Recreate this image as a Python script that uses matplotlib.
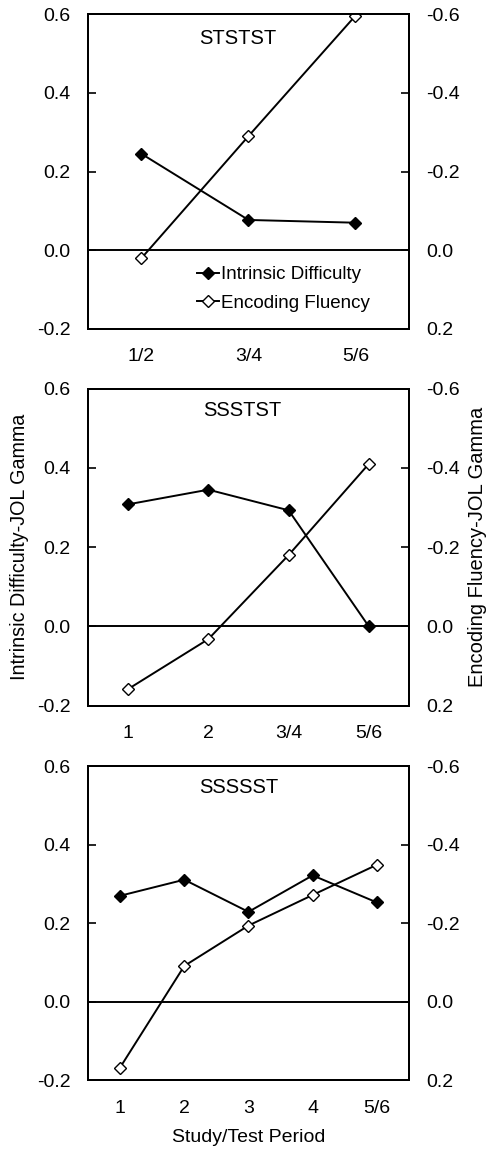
import numpy as np
import matplotlib.pyplot as plt

plt.rcParams['font.family'] = ['Liberation Sans', 'DejaVu Sans']
plt.rcParams['font.size'] = 14

# Panel data
titles = ["STSTST", "SSSTST", "SSSSST"]
xlabels = [["1/2", "3/4", "5/6"],
           ["1", "2", "3/4", "5/6"],
           ["1", "2", "3", "4", "5/6"]]
intrinsic = [[0.245, 0.077, 0.070],
             [0.308, 0.345, 0.293, 0.0],
             [0.270, 0.311, 0.229, 0.322, 0.253]]
fluency = [[0.020, -0.290, -0.596],
           [0.158, 0.032, -0.180, -0.410],
           [0.168, -0.091, -0.194, -0.272, -0.349]]

yticks = [-0.2, 0.0, 0.2, 0.4, 0.6]
rticks = [0.2, 0.0, -0.2, -0.4, -0.6]

fig = plt.figure(figsize=(4.87, 11.49), dpi=100)

# axes boxes in figure fractions: left, bottom, width, height
boxes = [[0.1807, 0.7137, 0.659, 0.274],
         [0.1807, 0.3858, 0.659, 0.276],
         [0.1807, 0.0600, 0.659, 0.273]]
title_pos = [(0.467, 0.924), (0.482, 0.93), (0.47, 0.933)]

for i in range(3):
    ax = fig.add_axes(boxes[i])
    n = len(xlabels[i])
    x = np.arange(1, n + 1)
    ax.set_xlim(0.5, n + 0.5)
    ax.set_ylim(-0.2, 0.6)
    ax.axhline(0, color='black', lw=1.4, zorder=1)
    l1, = ax.plot(x, intrinsic[i], color='black', lw=1.4, marker='D',
                  markersize=6.5, markerfacecolor='black', label='Intrinsic Difficulty')
    ax.set_yticks(yticks)
    ax.set_yticklabels(["%.1f" % v for v in yticks])
    ax.set_xticks(x)
    ax.set_xticklabels(xlabels[i])
    ax.tick_params(axis='x', length=0, pad=14, labelsize=14)
    ax.tick_params(axis='y', direction='in', length=6, width=1.2, pad=12.5, labelsize=14)
    for s in ax.spines.values():
        s.set_linewidth(1.4)

    ax2 = ax.twinx()
    ax2.set_ylim(0.2, -0.6)
    l2, = ax2.plot(x, fluency[i], color='black', lw=1.4, marker='D',
                   markersize=6.5, markerfacecolor='white', label='Encoding Fluency')
    ax2.set_yticks(rticks)
    ax2.set_yticklabels(["%.1f" % v for v in rticks])
    ax2.tick_params(axis='y', direction='in', length=6, width=1.2, pad=12.5, labelsize=14)
    for s in ax2.spines.values():
        s.set_linewidth(1.4)

    ax.text(title_pos[i][0], title_pos[i][1], titles[i], transform=ax.transAxes,
            ha='center', va='center', fontsize=14.5)

    if i == 0:
        ax2.legend([l1, l2], ['Intrinsic Difficulty', 'Encoding Fluency'],
                   loc='lower left', bbox_to_anchor=(0.31, 0.025), frameon=False,
                   handlelength=1.2, handletextpad=0.1, labelspacing=0.6,
                   fontsize=13.5, borderpad=0)
    if i == 1:
        ax.set_ylabel('Intrinsic Difficulty-JOL Gamma', fontsize=14.2, labelpad=6)
        ax2.set_ylabel('Encoding Fluency-JOL Gamma', fontsize=14.5, labelpad=6)
    if i == 2:
        ax.set_xlabel('Study/Test Period', fontsize=14, labelpad=9)

fig.savefig('out.png', dpi=100)
